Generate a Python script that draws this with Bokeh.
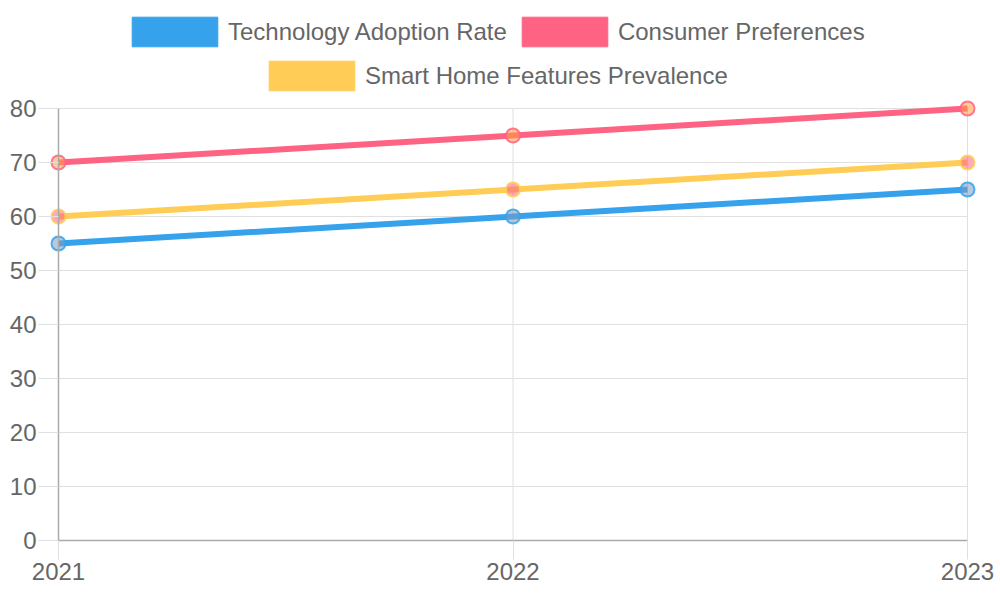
from bokeh.plotting import figure
from bokeh.models import Range1d, FixedTicker, Legend, LegendItem, ColumnDataSource
from bokeh.embed import file_html
from bokeh.resources import INLINE

years = [2021, 2022, 2023]
tech_adoption = [55, 60, 65]
consumer_pref = [70, 75, 80]
smart_home = [60, 65, 70]
y_ticks = [0, 10, 20, 30, 40, 50, 60, 70, 80]

series = [
    ("Technology Adoption Rate", tech_adoption, "#36a2eb", "#7f9cc0"),
    ("Consumer Preferences", consumer_pref, "#ff6384", "#ff9f40"),
    ("Smart Home Features Prevalence", smart_home, "#ffcd56", "#ff6384"),
]

FONT = "Liberation Sans"
TXT = "#666666"
GRID = "#e0e0e0"

W, H = 1000, 600
# pixel geometry of the plotting area (the frame spans the whole canvas)
LEFT_PX = 58       # px from the left edge to the first year
RIGHT_PX = 33      # px from the last year to the right edge
DATA_W = 909       # px between first and last year
TOP_PX = 108       # px from the top edge to the top tick
BOTTOM_PX = 60     # px from the zero line to the bottom edge
DATA_H = 432       # px between bottom and top tick

x0, x1 = years[0], years[-1]
y0, y1 = y_ticks[0], y_ticks[-1]
ppx = (x1 - x0) / DATA_W
ppy = (y1 - y0) / DATA_H

p = figure(width=W, height=H, output_backend="svg", toolbar_location=None,
           x_range=Range1d(x0 - LEFT_PX * ppx, x1 + RIGHT_PX * ppx),
           y_range=Range1d(y0 - BOTTOM_PX * ppy, y1 + TOP_PX * ppy),
           min_border=0)
p.outline_line_color = None
p.xgrid.visible = False
p.ygrid.visible = False

for ax in (p.xaxis[0], p.yaxis[0]):
    ax.major_label_text_font = FONT
    ax.major_label_text_font_size = "24px"
    ax.major_label_text_color = TXT
    ax.axis_line_color = "#aaaaaa"
    ax.axis_line_width = 1.5
    ax.major_tick_line_color = GRID
    ax.major_tick_in = 0
    ax.minor_tick_line_color = None

p.xaxis.ticker = FixedTicker(ticks=years)
p.xaxis.major_tick_out = 19
p.xaxis.major_label_standoff = 3
p.xaxis.bounds = (x0, x1)
p.xaxis.fixed_location = y0
p.yaxis.ticker = FixedTicker(ticks=y_ticks)
p.yaxis.major_tick_out = 20
p.yaxis.major_label_standoff = 2
p.yaxis.bounds = (y0, y1)
p.yaxis.fixed_location = x0

# grid lines limited to the data area
p.segment(x0=[x0] * len(y_ticks), x1=[x1] * len(y_ticks), y0=y_ticks, y1=y_ticks,
          line_color=GRID, line_width=1, level="underlay")
p.segment(x0=years, x1=years, y0=[y0] * len(years), y1=[y1] * len(years),
          line_color=GRID, line_width=1, level="underlay")

for name, vals, color, pfill in series:
    src = ColumnDataSource(dict(x=years, y=vals))
    p.line("x", "y", source=src, line_color=color, line_width=6)
    p.scatter("x", "y", source=src, size=14, fill_color=pfill, fill_alpha=0.55,
              line_color=color, line_width=2, line_alpha=0.85)

boxes = []
for name, vals, color, pfill in series:
    # off-canvas placeholder: only its legend swatch is shown
    r = p.quad(left=[-2], right=[-1], top=[-1], bottom=[-2], fill_color=color,
               line_color=color)
    boxes.append((name, r))

def make_legend(items, loc):
    return Legend(items=[LegendItem(label=n, renderers=[r]) for n, r in items],
                  location=loc, orientation="horizontal",
                  glyph_width=107, glyph_height=37, label_height=37,
                  label_standoff=0, spacing=4, padding=0, margin=0,
                  border_line_color=None, background_fill_alpha=0,
                  label_text_font=FONT, label_text_font_size="24px",
                  label_text_color=TXT)

p.add_layout(make_legend(boxes[:2], (121, 550)), "center")
p.add_layout(make_legend(boxes[2:], (258, 506)), "center")

open("out.html", "w").write(file_html(p, INLINE))
